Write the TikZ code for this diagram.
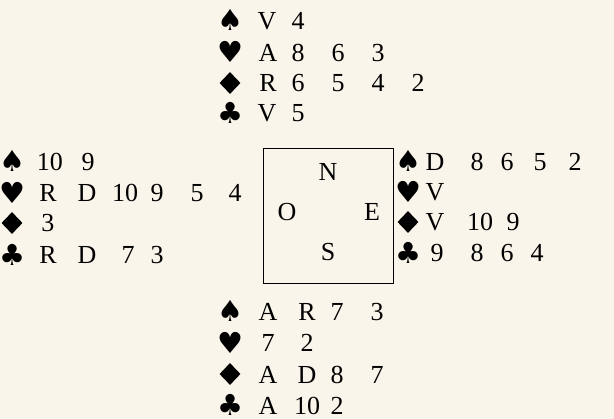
\documentclass[tikz,border=0pt]{standalone}
\usepackage{fontspec}
\usetikzlibrary{shapes.geometric}
\setmainfont{Liberation Serif}
\newfontfamily\suitfont{DejaVu Sans}
\definecolor{paper}{RGB}{250,245,234}
\begin{document}
\begin{tikzpicture}[x=1pt,y=-1pt,
  card/.style={inner sep=0pt, text height=17pt, text depth=0pt, font=\fontsize{26}{26}\selectfont},
  suit/.style={inner sep=0pt, font=\suitfont\fontsize{29}{29}\selectfont},
  diam/.style={diamond, fill=black, inner sep=0pt, minimum width=21pt, minimum height=22pt},
  compass/.style={inner sep=0pt, text height=17pt, text depth=0pt, font=\fontsize{26}{26}\selectfont},
  table/.style={draw=black, line width=0.9pt}]
\fill[paper] (0,0) rectangle (614,419);
\useasboundingbox (0,0) rectangle (614,419);
% table
\node[table, minimum width=130pt, minimum height=135pt, inner sep=0pt] (tbl) at (328,215.5) {};
\node[compass] (N) at (328,172) {N};
\node[compass] (O) at (287,212) {O};
\node[compass] (E) at (372,212) {E};
\node[compass] (S) at (328,252) {S};
% suit symbols
\foreach \sx/\sy/\s [count=\i] in {
  230/20/♠, 230/52/♥, 230/113/♣,
  12/161/♠, 12/193/♥, 12/255/♣,
  408/161/♠, 408/192/♥, 408/253/♣,
  230/311/♠, 230/343/♥, 230/405/♣}
  \node[suit] (suit\i) at (\sx,\sy) {\s};
\foreach \sx/\sy [count=\i] in {230/83, 12/223, 408/222, 230/374}
  \node[diam] (diam\i) at (\sx,\sy) {};
% North
\foreach \cx/\cy/\t [count=\i] in {
  267/21/V, 298/21/4,
  268/53/A, 298/53/8, 338/53/6, 378/53/3,
  268/83/R, 298/83/6, 338/83/5, 378/83/4, 418/83/2,
  267/113/V, 298/113/5}
  \node[card] (north\i) at (\cx,\cy) {\t};
% West
\foreach \cx/\cy/\t [count=\i] in {
  50/162/10, 88/162/9,
  48/193/R, 87/193/D, 125/193/10, 157/193/9, 197/193/5, 235/193/4,
  48/223/3,
  48/255/R, 87/255/D, 128/255/7, 157/255/3}
  \node[card] (west\i) at (\cx,\cy) {\t};
% East
\foreach \cx/\cy/\t [count=\i] in {
  435/162/D, 477/162/8, 507/162/6, 540/162/5, 575/162/2,
  435/192/V,
  435/222/V, 480/222/10, 513/222/9,
  437/253/9, 477/253/8, 507/253/6, 537/253/4}
  \node[card] (east\i) at (\cx,\cy) {\t};
% South
\foreach \cx/\cy/\t [count=\i] in {
  268/312/A, 307/312/R, 337/312/7, 377/312/3,
  268/343/7, 307/343/2,
  268/375/A, 307/375/D, 337/375/8, 377/375/7,
  268/406/A, 307/406/10, 337/406/2}
  \node[card] (south\i) at (\cx,\cy) {\t};
\end{tikzpicture}
\end{document}
